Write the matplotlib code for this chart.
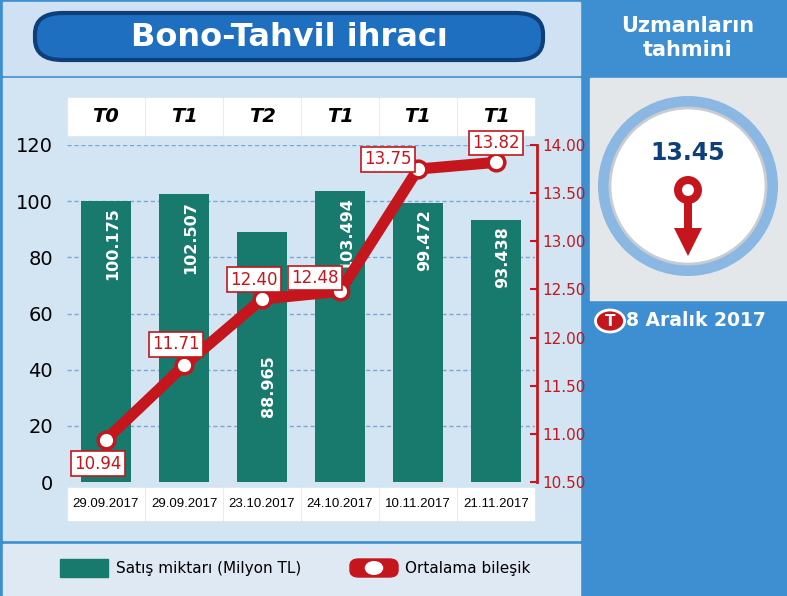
import matplotlib
matplotlib.use("Agg")
import matplotlib.pyplot as plt
from matplotlib.patches import FancyBboxPatch, Rectangle, Circle, Polygon
import numpy as np

dates = ["29.09.2017", "29.09.2017", "23.10.2017", "24.10.2017", "10.11.2017", "21.11.2017"]
terms = ["T0", "T1", "T2", "T1", "T1", "T1"]
sales = [100.175, 102.507, 88.965, 103.494, 99.472, 93.438]
rates = [10.94, 11.71, 12.40, 12.48, 13.75, 13.82]
forecast = "13.45"

W, H = 787, 596
fig = plt.figure(figsize=(W/100, H/100), dpi=100)
fig.patch.set_facecolor("#3d8fd1")

def fx(x): return x / W
def fy(y): return 1 - y / H
def rect(x0, y0, x1, y1, **kw):
    fig.patches.append(Rectangle((fx(x0), fy(y1)), fx(x1 - x0), (y1 - y0) / H, transform=fig.transFigure, **kw))

BLUE = "#3d8fd1"; TEAL = "#177a6c"; RED = "#c4161c"; LIGHT = "#d3e4f3"
rect(3, 2, 580, 75, color="#cfe1f2", zorder=-2)
rect(3, 78, 580, 540, color=LIGHT, zorder=-2)
rect(3, 544, 580, 596, color="#dfe9f3", zorder=-2)
fig.patches.append(FancyBboxPatch((fx(35), fy(60)), fx(508), 47/H, boxstyle="round,pad=0,rounding_size=0.035",
                   transform=fig.transFigure, fc="#1f6fc0", ec="#0d3f7a", lw=3, zorder=1))
fig.text(fx(289), fy(37), "Bono-Tahvil ihracı", color="white", fontsize=23, fontweight="bold",
         ha="center", va="center", zorder=2)

x0, x1, ytop, ybot = 67, 535, 145, 482
ax = fig.add_axes([fx(x0), fy(ybot), fx(x1 - x0), (ybot - ytop) / H])
ax.set_zorder(3)
ax.set_facecolor(LIGHT)
ax.set_xlim(-0.5, 5.5); ax.set_ylim(0, 120)
x = np.arange(len(sales))
ax.bar(x, sales, width=0.64, color=TEAL, zorder=2)
label_top = [98, 100, 45, 101.5, 97, 91]
for i, v in enumerate(sales):
    ax.text(i + 0.08, label_top[i], f"{v:.3f}", rotation=90, color="white", fontsize=11.5, fontweight="bold",
            ha="center", va="top", zorder=3)
ax.set_yticks(range(0, 121, 20))
ax.tick_params(axis="y", labelsize=14, length=0, pad=10)
ax.set_xticks([])
for yv in range(20, 121, 20):
    ax.axhline(yv, color="#7aa7d6", ls=(0, (3, 2)), lw=1, zorder=1)
for s in ax.spines.values(): s.set_visible(False)

ax2 = ax.twinx()
ax2.set_zorder(4)
ax2.set_ylim(10.5, 14.0)
ax2.plot(x, rates, color=RED, lw=8, zorder=4, solid_capstyle="round")
ax2.plot(x, rates, "o", ms=12, mfc="white", mec=RED, mew=2.5, zorder=5)
offs = [(-0.1, -0.25), (-0.1, 0.22), (-0.1, 0.2), (-0.32, 0.14), (-0.38, 0.1), (0.0, 0.2)]
for i, v in enumerate(rates):
    dx, dy = offs[i]
    ax2.text(i + dx, v + dy, f"{v:.2f}", color=RED, fontsize=12, ha="center", va="center", zorder=6,
             bbox=dict(boxstyle="square,pad=0.2", fc="white", ec=RED, lw=1.2))
ax2.set_yticks(np.arange(10.5, 14.01, 0.5))
ax2.set_yticklabels([f"{t:.2f}" for t in np.arange(10.5, 14.01, 0.5)])
ax2.tick_params(axis="y", colors=RED, labelsize=11, length=5, width=1.5, direction="in")
for k in ["top", "left", "bottom"]: ax2.spines[k].set_visible(False)
ax2.spines["right"].set_color(RED); ax2.spines["right"].set_linewidth(2)
ax2.spines["right"].set_position(("axes", 1.005))
ax2.spines["right"].set_bounds(10.5, 14.0)

cw = (x1 - x0) / 6
for i in range(6):
    cx0 = x0 + i * cw
    rect(cx0 + 1, 98, cx0 + cw - 1, 135, color="white", zorder=1)
    fig.text(fx(cx0 + cw / 2), fy(116), terms[i], fontsize=14, fontweight="bold", style="italic",
             ha="center", va="center")
    rect(cx0 + 1, 488, cx0 + cw - 1, 520, color="white", zorder=1)
    fig.text(fx(cx0 + cw / 2), fy(504), dates[i], fontsize=9.5, ha="center", va="center", family="Liberation Sans")

rect(60, 559, 108, 577, color=TEAL, zorder=1)
fig.text(fx(116), fy(568), "Satış miktarı (Milyon TL)", fontsize=11, va="center")
fig.patches.append(FancyBboxPatch((fx(350), fy(577)), fx(48), 18/H, boxstyle="round,pad=0,rounding_size=0.011",
                   transform=fig.transFigure, fc=RED, ec=RED, zorder=1))
fig.patches.append(Circle((fx(374), fy(568)), 7/H, transform=fig.transFigure, fc="white", zorder=2))
fig.text(fx(405), fy(568), "Ortalama bileşik", fontsize=11, va="center")

rect(590, 2, 787, 75, color=BLUE, zorder=-2)
fig.text(fx(688), fy(38), "Uzmanların\ntahmini", color="white", fontsize=15, fontweight="bold",
         ha="center", va="center", linespacing=1.2)
rect(590, 78, 787, 300, color="#e4e7ea", zorder=-2)
cax = fig.add_axes([fx(590), fy(300), fx(197), 222 / H])
cax.set_zorder(3)
cax.set_xlim(0, 197); cax.set_ylim(222, 0); cax.set_aspect("equal"); cax.axis("off")
cax.add_patch(Circle((98, 108), 90, fc="#8ab8e2", ec="none"))
cax.add_patch(Circle((98, 108), 78, fc="white", ec="#c9cdd2", lw=2))
cax.text(98, 75, forecast, color="#0d3f7a", fontsize=17, fontweight="bold", ha="center", va="center")
cax.add_patch(Circle((98, 112), 14, fc=RED))
cax.add_patch(Circle((98, 112), 6, fc="white"))
cax.add_patch(Rectangle((94, 124), 8, 30, fc=RED))
cax.add_patch(Polygon([[84, 150], [112, 150], [98, 178]], fc=RED))
fig.patches.append(Circle((fx(610), fy(321)), 11/H, transform=fig.transFigure, fc=RED, ec="white", lw=2))
fig.text(fx(610), fy(321), "T", color="white", fontsize=11, fontweight="bold", ha="center", va="center")
fig.text(fx(626), fy(321), "8 Aralık 2017", color="white", fontsize=13.5, fontweight="bold", va="center")

fig.savefig("out.png", dpi=100, facecolor=fig.get_facecolor())
